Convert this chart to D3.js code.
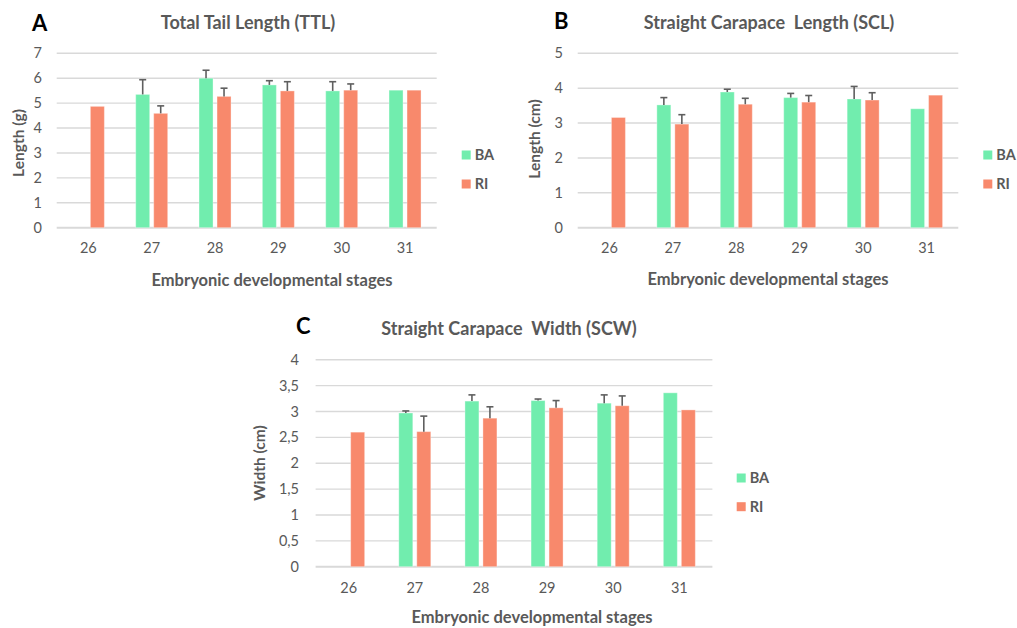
<!DOCTYPE html>
<html><head><meta charset="utf-8">
<script src="https://cdn.jsdelivr.net/npm/d3@7"></script>
<style>
html,body{margin:0;padding:0;background:#fff;}
svg{display:block;}
text{font-family:Lato,"Open Sans",sans-serif;white-space:pre;}
</style></head>
<body>
<svg id="chart" width="1017" height="628"></svg>
<script>
// ---------- DATA ----------
const stages = ["26","27","28","29","30","31"];
const seriesNames = ["BA","RI"];

const ttlBA    = [null, 5.35, 6.00, 5.73, 5.49, 5.52];
const ttlRI    = [4.87, 4.59, 5.27, 5.49, 5.52, 5.52];
const ttlBAErr = [null, 0.59, 0.32, 0.17, 0.37, null];
const ttlRIErr = [null, 0.30, 0.33, 0.37, 0.25, null];
const ttlTicks = [0,1,2,3,4,5,6,7];

const sclBA    = [null, 3.52, 3.89, 3.73, 3.69, 3.41];
const sclRI    = [3.16, 2.97, 3.54, 3.60, 3.66, 3.80];
const sclBAErr = [null, 0.21, 0.08, 0.12, 0.36, null];
const sclRIErr = [null, 0.27, 0.17, 0.19, 0.21, null];
const sclTicks = [0,1,2,3,4,5];

const scwBA    = [null, 2.97, 3.20, 3.21, 3.16, 3.36];
const scwRI    = [2.60, 2.61, 2.87, 3.07, 3.11, 3.03];
const scwBAErr = [null, 0.04, 0.12, 0.03, 0.16, null];
const scwRIErr = [null, 0.30, 0.22, 0.14, 0.19, null];
const scwTicks = [0,0.5,1,1.5,2,2.5,3,3.5,4];

const xTitle = "Embryonic developmental stages";

// ---------- STYLE ----------
const colors = {BA:"#71EDAE", RI:"#F8896C"};
const textCol = "#595959";
const gridCol = "#D9D9D9";
const fmtComma = d => String(d).replace(".", ",");

const svg = d3.select("#chart");

function panel(cfg){
  const g = svg.append("g");
  const x = d3.scaleBand().domain(stages).range([cfg.x0, cfg.x1]);
  const y = d3.scaleLinear().domain([0, cfg.ticks[cfg.ticks.length-1]]).range([cfg.yB, cfg.yT]);

  g.append("g").selectAll("line").data(cfg.ticks).join("line")
    .attr("x1", cfg.x0).attr("x2", cfg.x1)
    .attr("y1", d => y(d)).attr("y2", d => y(d))
    .attr("stroke", gridCol).attr("stroke-width", d => d===0 ? 2 : 1.4);

  const yAxis = d3.axisLeft(y).tickValues(cfg.ticks).tickFormat(fmtComma).tickSize(0).tickPadding(0);
  const ya = g.append("g").attr("transform", `translate(${cfg.yLabX},0)`).call(yAxis);
  ya.select(".domain").remove();
  ya.selectAll("text").attr("font-size", 14.5).attr("fill", textCol).attr("font-family","Lato,sans-serif");

  const xAxis = d3.axisBottom(x).tickSize(0).tickPadding(0);
  const xa = g.append("g").attr("transform", `translate(0,${cfg.xLabY})`).call(xAxis);
  xa.select(".domain").remove();
  xa.selectAll("text").attr("font-size", 14.5).attr("fill", textCol).attr("font-family","Lato,sans-serif").attr("dy","0.35em");

  const barW = 14, gap = 4;
  const series = [
    {name:"BA", vals:cfg.ba, errs:cfg.baErr, off:-gap/2-barW},
    {name:"RI", vals:cfg.ri, errs:cfg.riErr, off:gap/2}
  ];
  series.forEach(s => {
    const pts = stages.map((st,i) => ({st, v:s.vals[i], e:s.errs[i]})).filter(d => d.v != null);
    g.append("g").selectAll("rect").data(pts).join("rect")
      .attr("x", d => x(d.st) + x.bandwidth()/2 + s.off)
      .attr("y", d => y(d.v))
      .attr("width", barW)
      .attr("height", d => y(0) - y(d.v))
      .attr("fill", colors[s.name])
      .attr("stroke", "rgba(255,255,255,0.35)").attr("stroke-width", 1);
    const ep = pts.filter(d => d.e != null);
    const eg = g.append("g").attr("stroke", "#5f5f5f").attr("stroke-width", 1.6);
    eg.selectAll("line.v").data(ep).join("line").attr("class","v")
      .attr("x1", d => x(d.st) + x.bandwidth()/2 + s.off + barW/2)
      .attr("x2", d => x(d.st) + x.bandwidth()/2 + s.off + barW/2)
      .attr("y1", d => y(d.v)).attr("y2", d => y(d.v + d.e));
    eg.selectAll("line.c").data(ep).join("line").attr("class","c")
      .attr("x1", d => x(d.st) + x.bandwidth()/2 + s.off + barW/2 - 3.5)
      .attr("x2", d => x(d.st) + x.bandwidth()/2 + s.off + barW/2 + 3.5)
      .attr("y1", d => y(d.v + d.e)).attr("y2", d => y(d.v + d.e));
  });

  g.append("text").attr("x", cfg.titleX).attr("y", cfg.titleY).attr("text-anchor","middle")
    .attr("font-size", 18).attr("font-weight","bold").attr("fill", textCol).text(cfg.title);
  g.append("text").attr("x", cfg.letterX).attr("y", cfg.letterY)
    .attr("font-family","'Liberation Sans',Arial,sans-serif")
    .attr("font-size", 22).attr("font-weight","bold").attr("fill","#000").text(cfg.letter);
  g.append("text").attr("x", cfg.xTitleX).attr("y", cfg.xTitleY).attr("text-anchor","middle")
    .attr("font-size", 16.5).attr("font-weight","bold").attr("fill", textCol).text(xTitle);
  g.append("text").attr("transform", `translate(${cfg.yTitleX},${cfg.yTitleY}) rotate(-90)`)
    .attr("text-anchor","middle").attr("dy","0.35em")
    .attr("font-size", 15.5).attr("font-weight","bold").attr("fill", textCol).text(cfg.yTitle);

  const lg = g.append("g");
  seriesNames.forEach((n,i) => {
    const cy = cfg.legY + i*cfg.legStep;
    lg.append("rect").attr("x", cfg.legX).attr("y", cy-4.5).attr("width", 9).attr("height", 9).attr("fill", colors[n]);
    lg.append("text").attr("x", cfg.legX + 13).attr("y", cy).attr("dy","0.36em")
      .attr("font-size", 14.5).attr("font-weight","bold").attr("fill", textCol).text(n);
  });
}

panel({x0:56.7, x1:436.7, yT:53.3, yB:227.7, ticks:ttlTicks,
  ba:ttlBA, ri:ttlRI, baErr:ttlBAErr, riErr:ttlRIErr,
  yLabX:42, xLabY:248,
  title:"Total Tail Length (TTL)", titleX:248, titleY:29, letter:"A", letterX:32, letterY:31,
  xTitleX:272, xTitleY:286, yTitle:"Length (g)", yTitleX:19, yTitleY:143,
  legX:461.7, legY:155, legStep:29});

panel({x0:577.7, x1:958.3, yT:53.3, yB:227.7, ticks:sclTicks,
  ba:sclBA, ri:sclRI, baErr:sclBAErr, riErr:sclRIErr,
  yLabX:563, xLabY:248,
  title:"Straight Carapace  Length (SCL)", titleX:769, titleY:29, letter:"B", letterX:554, letterY:29,
  xTitleX:768, xTitleY:285, yTitle:"Length (cm)", yTitleX:535, yTitleY:139,
  legX:983.3, legY:155, legStep:29});

panel({x0:315.6, x1:712.4, yT:359.7, yB:566.7, ticks:scwTicks,
  ba:scwBA, ri:scwRI, baErr:scwBAErr, riErr:scwRIErr,
  yLabX:299, xLabY:588,
  title:"Straight Carapace  Width (SCW)", titleX:509, titleY:335, letter:"C", letterX:296, letterY:334,
  xTitleX:532, xTitleY:623, yTitle:"Width (cm)", yTitleX:259.6, yTitleY:463,
  legX:736.7, legY:478, legStep:28.7});
</script>
</body></html>
